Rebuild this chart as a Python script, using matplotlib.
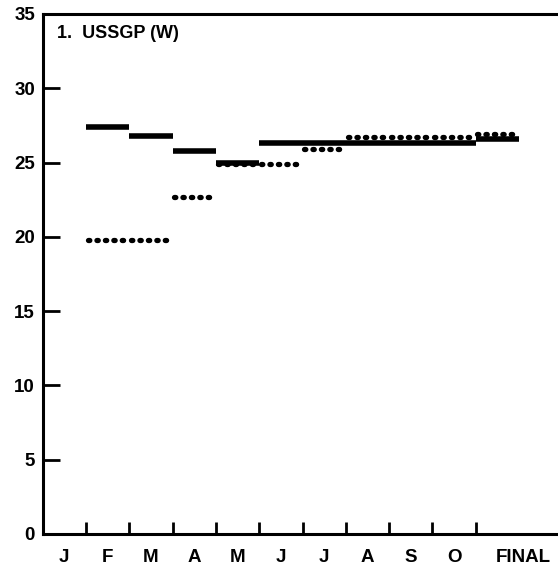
import matplotlib.pyplot as plt
import numpy as np

plt.rcParams['font.family'] = ['Liberation Sans', 'DejaVu Sans']
plt.rcParams['font.weight'] = 'bold'

# monthly estimates, one segment per month from February to the final figure
months = ['J', 'F', 'M', 'A', 'M', 'J', 'J', 'A', 'S', 'O', 'FINAL']
solid_vals = [27.4, 26.8, 25.8, 25.0, 26.3, 26.3, 26.3, 26.3, 26.3, 26.6]
dotted_vals = [19.8, 19.8, 22.7, 24.9, 24.9, 25.9, 26.7, 26.7, 26.7, 26.9]
yticks = [0, 5, 10, 15, 20, 25, 30, 35]
title = '1.  USSGP (W)'

fig = plt.figure(figsize=(5.58, 5.72), dpi=100)
ax = fig.add_axes([42.7 / 558, 1 - 534 / 572, 1 - 42.7 / 558, (534 - 14) / 572])

starts = np.arange(1, len(solid_vals) + 1)
for x0, v in zip(starts, solid_vals):
    ax.plot([x0, x0 + 1], [v, v], color='black', lw=4.0, solid_capstyle='butt')
for x0, v in zip(starts, dotted_vals):
    ax.plot([x0 + 0.04, x0 + 0.98], [v, v], color='black', lw=3.8,
            linestyle=(0, (0.25, 1.35)), dash_capstyle='round')

ax.set_xlim(0, 11.9)
ax.set_ylim(0, 35)

# y axis: inward ticks, none drawn at the top
ax.set_yticks(yticks)
ax.set_yticklabels([str(t) for t in yticks], fontsize=13.5)
ax.tick_params(axis='y', direction='in', length=12, width=2, pad=5.5)
for t in ax.yaxis.get_major_ticks():
    if t.get_loc() in (0, 35):
        t.tick1line.set_visible(False)

# x axis: ticks at month boundaries, labels centred between them
ax.set_xticks(np.arange(1, 11))
ax.set_xticklabels([])
ax.tick_params(axis='x', direction='in', length=9, width=2)
label_pos = list(np.arange(0, 10) + 0.5) + [11.1]
for xp, m in zip(label_pos, months):
    ax.text(xp, -1.0, m, ha='center', va='top', fontsize=13.5, fontweight='bold')

for side in ['left', 'bottom', 'top']:
    ax.spines[side].set_linewidth(2.2)
ax.spines['right'].set_visible(False)

ax.text(0.33, 33.7, title, fontsize=13, fontweight='bold', va='center')

fig.savefig('out.png', dpi=100)
